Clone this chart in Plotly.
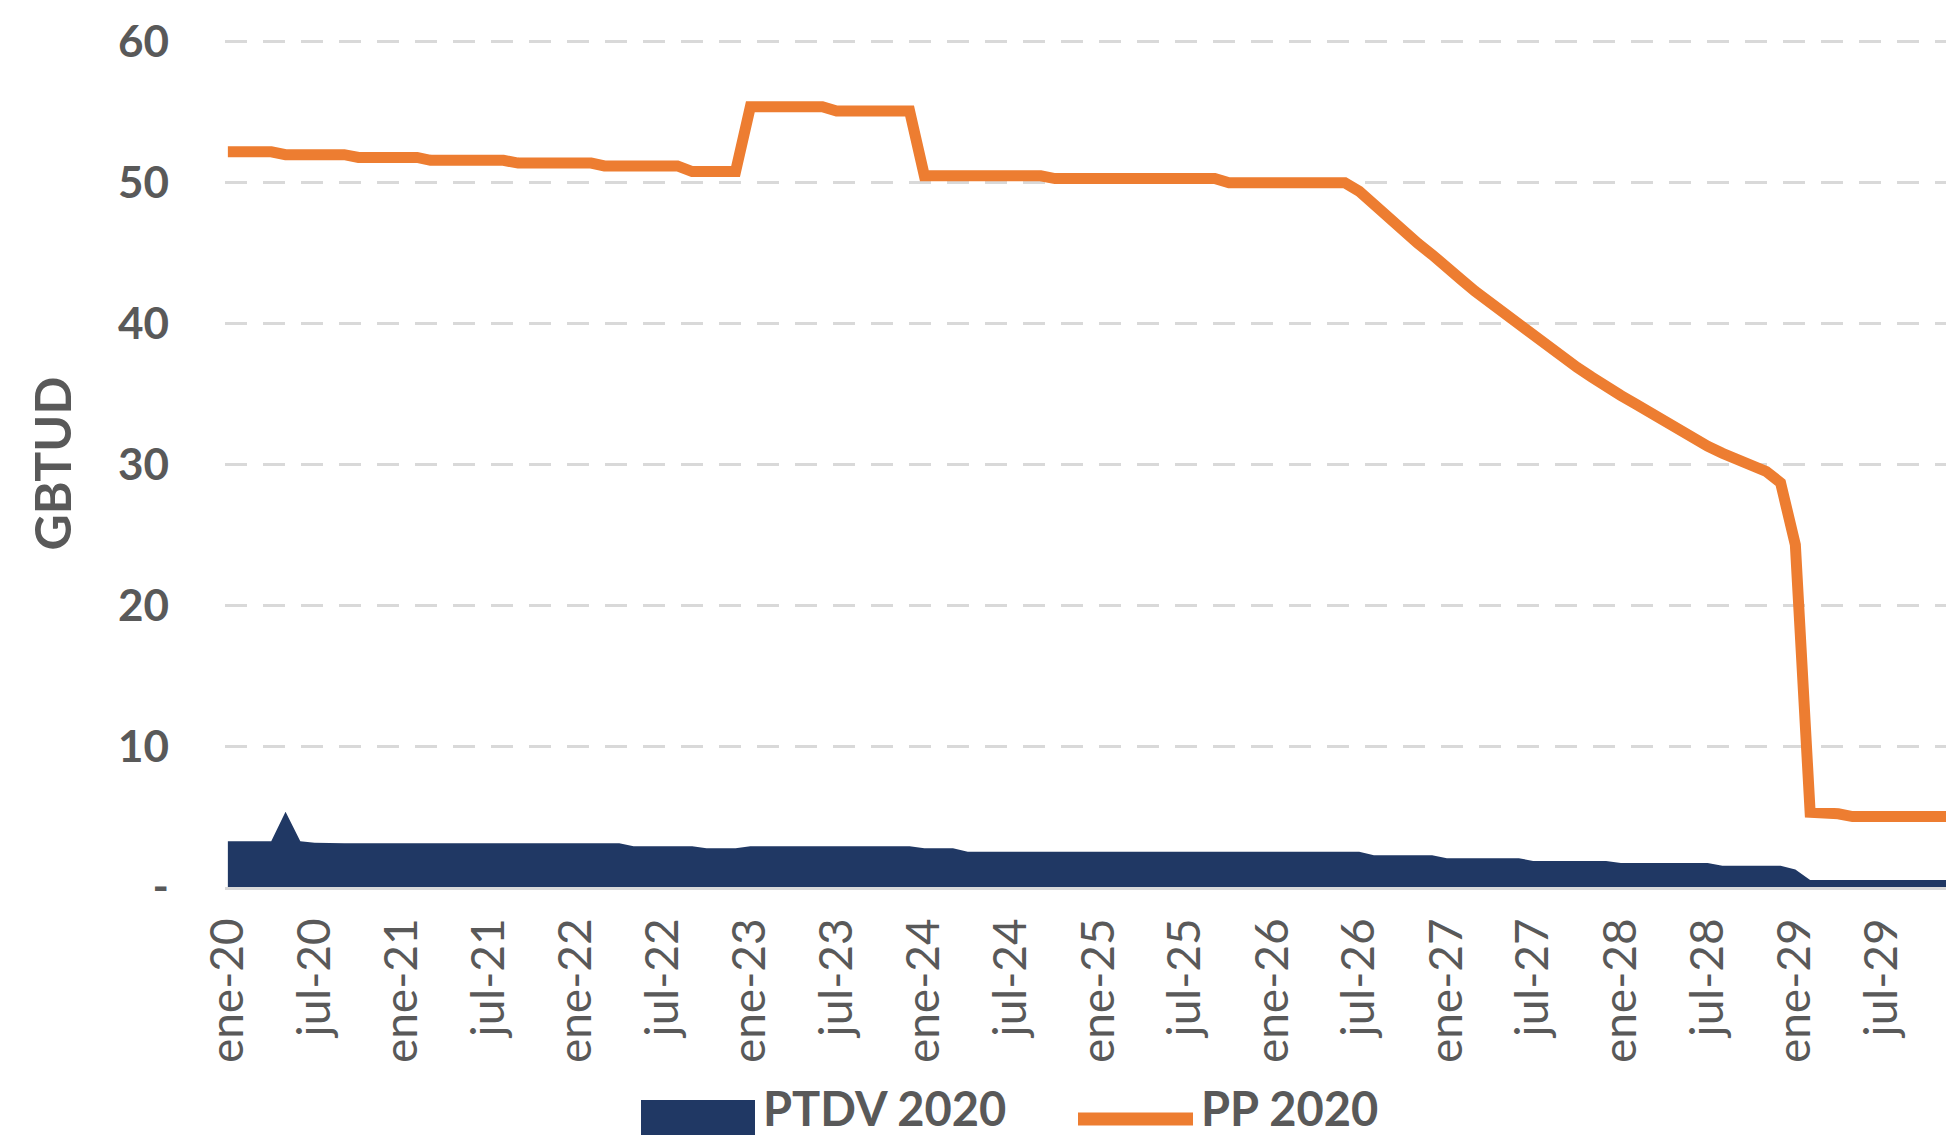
import pandas as pd
import plotly.graph_objects as go

# ---------------- data ----------------
months = pd.date_range("2020-01-01", "2029-12-01", freq="MS")

ptdv_2020 = [
    3.25, 3.25, 3.25, 3.25, 5.35, 3.25, 3.15, 3.1, 3.1, 3.1, 3.1, 3.1,      # 2020
    3.1, 3.1, 3.1, 3.1, 3.1, 3.1, 3.1, 3.1, 3.1, 3.1, 3.1, 3.1,            # 2021
    3.1, 3.1, 3.1, 3.1, 2.9, 2.9, 2.9, 2.9, 2.9, 2.75, 2.75, 2.75,         # 2022
    2.9, 2.9, 2.9, 2.9, 2.9, 2.9, 2.9, 2.9, 2.9, 2.9, 2.9, 2.9,            # 2023
    2.75, 2.75, 2.75, 2.5, 2.5, 2.5, 2.5, 2.5, 2.5, 2.5, 2.5, 2.5,         # 2024
    2.5, 2.5, 2.5, 2.5, 2.5, 2.5, 2.5, 2.5, 2.5, 2.5, 2.5, 2.5,            # 2025
    2.5, 2.5, 2.5, 2.5, 2.5, 2.5, 2.5, 2.25, 2.25, 2.25, 2.25, 2.25,       # 2026
    2.05, 2.05, 2.05, 2.05, 2.05, 2.05, 1.85, 1.85, 1.85, 1.85, 1.85, 1.85,  # 2027
    1.7, 1.7, 1.7, 1.7, 1.7, 1.7, 1.7, 1.5, 1.5, 1.5, 1.5, 1.5,            # 2028
    1.25, 0.5, 0.5, 0.5, 0.5, 0.5, 0.5, 0.5, 0.5, 0.5, 0.5, 0.5,           # 2029
]

pp_2020 = [
    52.2, 52.2, 52.2, 52.2, 52.0, 52.0, 52.0, 52.0, 52.0, 51.8, 51.8, 51.8,  # 2020
    51.8, 51.8, 51.6, 51.6, 51.6, 51.6, 51.6, 51.6, 51.4, 51.4, 51.4, 51.4,  # 2021
    51.4, 51.4, 51.2, 51.2, 51.2, 51.2, 51.2, 51.2, 50.8, 50.8, 50.8, 50.8,  # 2022
    55.4, 55.4, 55.4, 55.4, 55.4, 55.4, 55.1, 55.1, 55.1, 55.1, 55.1, 55.1,  # 2023
    50.5, 50.5, 50.5, 50.5, 50.5, 50.5, 50.5, 50.5, 50.5, 50.3, 50.3, 50.3,  # 2024
    50.3, 50.3, 50.3, 50.3, 50.3, 50.3, 50.3, 50.3, 50.3, 50.0, 50.0, 50.0,  # 2025
    50.0, 50.0, 50.0, 50.0, 50.0, 50.0, 49.4, 48.4, 47.4, 46.5, 45.7, 44.9,  # 2026
    44.1, 43.1, 42.3, 41.5, 40.7, 39.9, 39.1, 38.3, 37.6, 36.9, 36.2, 35.5,  # 2027
    34.9, 34.3, 33.7, 33.1, 32.5, 31.9, 31.3, 30.8, 30.4, 30.0, 29.5, 28.7,  # 2028
    24.3, 5.3, 5.3, 5.2, 5.0, 5.0, 5.0, 5.0, 5.0, 5.0, 5.0, 5.0,             # 2029
]

x_tick_dates = [
    "2020-01-01", "2020-07-01", "2021-01-01", "2021-07-01", "2022-01-01",
    "2022-07-01", "2023-01-01", "2023-07-01", "2024-01-01", "2024-07-01",
    "2025-01-01", "2025-07-01", "2026-01-01", "2026-07-01", "2027-01-01",
    "2027-07-01", "2028-01-01", "2028-07-01", "2029-01-01", "2029-07-01",
]
x_tick_labels = [
    "ene-20", "jul-20", "ene-21", "jul-21", "ene-22", "jul-22", "ene-23",
    "jul-23", "ene-24", "jul-24", "ene-25", "jul-25", "ene-26", "jul-26",
    "ene-27", "jul-27", "ene-28", "jul-28", "ene-29", "jul-29",
]
y_tick_vals = [0, 10, 20, 30, 40, 50, 60]
y_tick_labels = ["-", "10", "20", "30", "40", "50", "60"]

series_names = ["PTDV 2020", "PP 2020"]
y_title = "GBTUD"

# ---------------- style ----------------
NAVY = "#203864"
ORANGE = "#ED7D31"
TEXT = "#595959"
GRID = "#D9D9D9"
FONT = "Lato"

fig = go.Figure()
fig.add_trace(go.Scatter(
    x=months, y=ptdv_2020, name=series_names[0], mode="lines",
    line=dict(width=0, color=NAVY), fill="tozeroy", fillcolor=NAVY,
    showlegend=False,
))
fig.add_trace(go.Scatter(
    x=months, y=pp_2020, name=series_names[1], mode="lines",
    line=dict(width=11, color=ORANGE), showlegend=False,
))

TOP = 40
BOTTOM = 887
LEFT = 225
fig.update_layout(
    width=1946, height=1139, autosize=False,
    margin=dict(l=LEFT, r=0, t=TOP, b=1139 - BOTTOM),
    paper_bgcolor="white", plot_bgcolor="white",
    font=dict(family=FONT, color=TEXT),
)

fig.update_xaxes(
    type="date",
    range=["2019-12-26", "2029-11-13"],
    tickmode="array", tickvals=x_tick_dates, ticktext=x_tick_labels,
    tickangle=-90, tickfont=dict(family=FONT, size=46, color=TEXT),
    ticklabelstandoff=10,
    showgrid=False, zeroline=False,
    showline=True, linecolor=GRID, linewidth=3,
    ticks="",
)
fig.update_yaxes(
    range=[0, 60.14],
    tickmode="array", tickvals=y_tick_vals, ticktext=y_tick_labels,
    tickfont=dict(family=FONT, size=44, color=TEXT, weight="bold"),
    ticklabelstandoff=55,
    showgrid=True, gridcolor=GRID, gridwidth=3, griddash="22px,16px",
    zeroline=False, showline=False, ticks="",
    title=dict(text=y_title, font=dict(family=FONT, size=50, color=TEXT, weight="bold"), standoff=30),
)

# ---------------- legend (drawn below the chart) ----------------
W = 1946 - LEFT
H = BOTTOM - TOP
def px(xp):
    return (xp - LEFT) / W
def py(yp):
    return (BOTTOM - yp) / H

fig.add_shape(type="rect", xref="paper", yref="paper",
              x0=px(641), x1=px(755), y0=py(1135), y1=py(1100),
              fillcolor=NAVY, line=dict(width=0))
fig.add_shape(type="line", xref="paper", yref="paper",
              x0=px(1078), x1=px(1193), y0=py(1119), y1=py(1119),
              line=dict(color=ORANGE, width=13))
fig.add_annotation(xref="paper", yref="paper", x=px(761), y=py(1138),
                   xanchor="left", yanchor="bottom", showarrow=False,
                   text=series_names[0],
                   font=dict(family=FONT, size=47, color=TEXT, weight="bold"))
fig.add_annotation(xref="paper", yref="paper", x=px(1199), y=py(1138),
                   xanchor="left", yanchor="bottom", showarrow=False,
                   text=series_names[1],
                   font=dict(family=FONT, size=47, color=TEXT, weight="bold"))

fig.write_html("out.html",
               config={"displayModeBar": False},
               post_script="document.body.style.margin='0';document.body.style.overflow='hidden';")
